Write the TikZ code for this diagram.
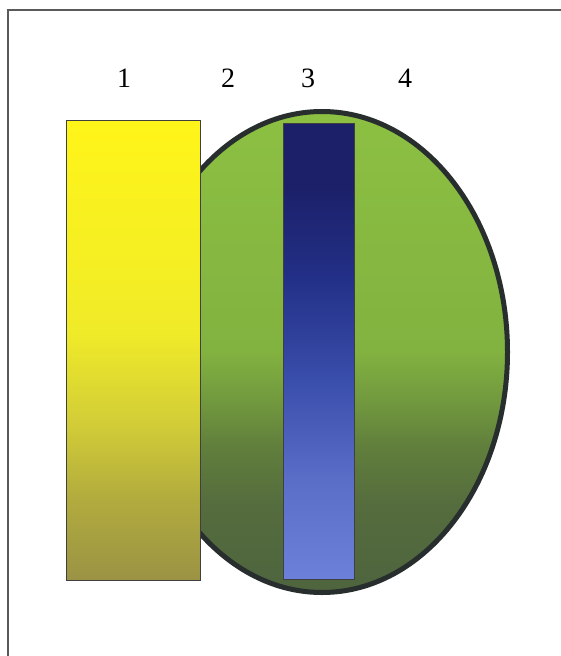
\documentclass[tikz,border=0pt]{standalone}
\usepackage{fontspec}
\setmainfont{Liberation Serif}
\usetikzlibrary{shapes.geometric}
\definecolor{ytop}{RGB}{255,245,25}
\definecolor{yhi}{RGB}{240,235,40}
\definecolor{ymid}{RGB}{210,205,55}
\definecolor{ylow}{RGB}{178,172,62}
\definecolor{ybot}{RGB}{155,147,68}
\definecolor{gtop}{RGB}{140,192,66}
\definecolor{gmid}{RGB}{130,178,64}
\definecolor{glow}{RGB}{110,148,62}
\definecolor{glower}{RGB}{96,126,60}
\definecolor{gdark}{RGB}{85,108,62}
\definecolor{gbot}{RGB}{78,100,62}
\definecolor{btop}{RGB}{28,32,105}
\definecolor{bhi}{RGB}{35,48,135}
\definecolor{bmid}{RGB}{57,77,170}
\definecolor{blow}{RGB}{90,110,200}
\definecolor{bbot}{RGB}{108,128,218}
\definecolor{rimcol}{RGB}{40,46,46}
\definecolor{framecol}{RGB}{90,90,90}
\pgfdeclareverticalshading{yelshade}{100bp}{color(0bp)=(ybot); color(25bp)=(ybot); color(34bp)=(ylow); color(42bp)=(ymid); color(52bp)=(yhi); color(75bp)=(ytop); color(100bp)=(ytop)}
\pgfdeclareverticalshading{grnshade}{100bp}{color(0bp)=(gbot); color(25bp)=(gbot); color(34bp)=(gdark); color(40bp)=(glower); color(44bp)=(glow); color(50bp)=(gmid); color(75bp)=(gtop); color(100bp)=(gtop)}
\pgfdeclareverticalshading{blushade}{100bp}{color(0bp)=(bbot); color(25bp)=(bbot); color(36bp)=(blow); color(47bp)=(bmid); color(58bp)=(bhi); color(68bp)=(btop); color(75bp)=(btop); color(100bp)=(btop)}
\tikzset{
  bar/.style={rectangle, draw=black!75, line width=0.8pt, inner sep=0pt, outer sep=0pt},
  numlabel/.style={anchor=base, inner sep=0pt, font=\fontsize{28}{34}\selectfont},
}
\begin{document}
\begin{tikzpicture}[x=1pt, y=-1pt]
\useasboundingbox (0,0) rectangle (561,656);
\fill[white] (0,0) rectangle (561,656);
% frame (only left and top edges visible)
\coordinate (fbl) at (8,670);
\coordinate (ftl) at (8,10);
\coordinate (ftr) at (575,10);
\draw[framecol, line width=1.5pt] (fbl) -- (ftl) -- (ftr);
% oval
\node[ellipse, draw=rimcol, line width=5pt, shading=grnshade, inner sep=0pt, outer sep=0pt,
      minimum width=371pt, minimum height=481pt] (oval) at (322,352) {};
% blue bar
\node[bar, shading=blushade, minimum width=71pt, minimum height=456pt] (blue) at (318.5,351) {};
% yellow bar
\node[bar, shading=yelshade, minimum width=134pt, minimum height=460pt] (yellow) at (133,350) {};
% labels
\node[numlabel] (l1) at (124,87) {1};
\node[numlabel] (l2) at (228,87) {2};
\node[numlabel] (l3) at (308,87) {3};
\node[numlabel] (l4) at (405,87) {4};
\end{tikzpicture}
\end{document}
